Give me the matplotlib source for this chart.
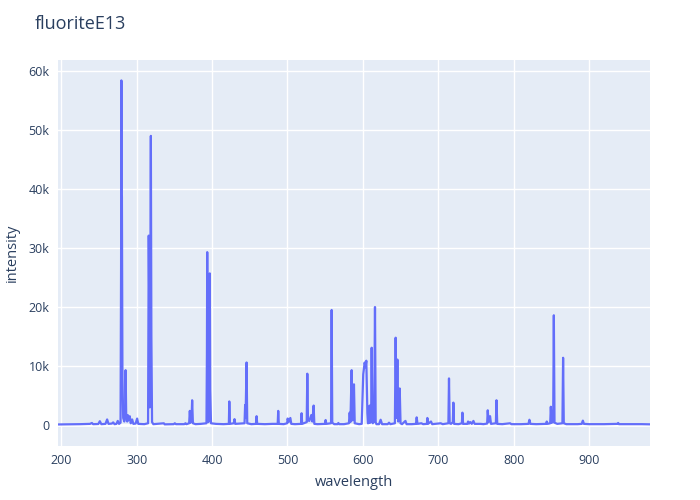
import matplotlib
matplotlib.use("Agg")
import matplotlib.pyplot as plt
from matplotlib.ticker import FuncFormatter

title = "fluoriteE13"
x_label = "wavelength"
y_label = "intensity"

wavelength = [
    195.5, 210, 225, 238, 240.5, 242, 249, 251, 253, 258.5, 260.7, 262.5, 267, 268.7, 270.5,
    273, 274.8, 276.5, 278.5, 279.2, 279.6, 280.0, 280.3, 281.0, 282.0, 283.5, 284.6, 285.2,
    286.0, 287.3, 288.0, 289.0, 290.7, 292.0, 293.9, 295.5, 298.5, 300.5, 302, 310, 315.0,
    315.9, 316.6, 317.3, 318.0, 318.7, 319.4, 320.3, 322, 335.9, 337, 349, 350.5, 352, 363,
    364.7, 366, 369.5, 370.4, 371.3, 372.8, 373.5, 374.5, 378, 385, 392.5, 393.1, 393.5,
    394.2, 395.0, 396.2, 396.9, 397.5, 398.5, 405, 415, 422.2, 422.8, 423.6, 428.8, 429.7,
    430.7, 443, 443.8, 444.4, 445.7, 446.6, 452, 458.2, 459, 459.8, 470, 480, 487, 487.7,
    488.5, 495, 499.5, 500.2, 501.5, 503.8, 505, 510, 518, 518.7, 519.5, 525.5, 526.3, 527.2,
    529, 531.6, 533, 534.7, 535.6, 540, 549.8, 550.6, 551.5, 557.8, 558.6, 559.4, 562, 566.5,
    567.5, 568.5, 575, 581.5, 582.5, 583.5, 585.1, 586.5, 588.2, 589.2, 595, 598.5, 600.5,
    602.4, 603.5, 604.6, 606.0, 606.8, 608.3, 609.0, 609.8, 611.0, 611.7, 612.6, 613.3, 614.0,
    615.0, 616.1, 617.0, 618, 621.5, 623.6, 625.5, 633, 634.7, 636.5, 642.5, 643.5, 644.6,
    645.8, 647, 648.9, 650, 652, 656.5, 658, 665, 670.5, 671.4, 672.5, 677.6, 680, 685, 685.6,
    686.5, 690.4, 692, 703.3, 706, 713.5, 714.3, 715.2, 717, 719.4, 720.1, 721, 727, 731.4,
    732.1, 733, 738.8, 739.6, 741, 742.7, 744.5, 746.7, 748.3, 756.4, 760, 764.9, 765.7, 766.8,
    768.8, 770, 776.5, 777.3, 778.3, 785, 795.4, 797, 810, 819.8, 821.0, 822.3, 830, 843, 844.0,
    845, 848.6, 849.4, 850.4, 852.5, 853.4, 854.3, 858, 864.8, 865.7, 866.6, 870, 885, 890.5,
    891.9, 893.3, 900, 920, 938, 938.8, 939.8, 955, 970, 981,
]
intensity = [
    100, 120, 150, 200, 350, 150, 180, 650, 150, 200, 950, 200, 250, 450, 150,
    200, 700, 200, 400, 27000, 58400, 25000, 38700, 8000, 1200, 600, 2000, 9300,
    1500, 600, 1700, 800, 1500, 300, 950, 200, 250, 1100, 200, 150, 300,
    32100, 20000, 3000, 23000, 49000, 15000, 500, 150, 300, 120, 150, 300, 150, 150,
    300, 150, 300, 2400, 400, 1500, 4200, 300, 150, 200, 300, 12000, 29300,
    8000, 500, 4000, 25700, 6000, 300, 200, 150, 200, 4000, 200, 300, 1000,
    200, 300, 3400, 1200, 10600, 300, 150, 200, 1500, 200, 150, 200, 200, 2400,
    200, 150, 300, 1100, 500, 1200, 200, 150, 200, 2000, 200, 500, 8700, 800,
    700, 1700, 600, 3300, 200, 150, 200, 850, 200, 300, 19500, 400, 150, 150,
    350, 150, 150, 300, 2100, 500, 9300, 800, 6900, 300, 150, 200, 8600,
    10600, 9800, 10900, 2000, 300, 400, 3300, 400, 1500, 13100, 500, 300, 3000,
    500, 20000, 500, 150, 150, 900, 150, 150, 400, 150, 300, 14800, 1200,
    11100, 600, 6200, 300, 150, 700, 150, 150, 200, 1300, 200, 300, 150, 200, 1200,
    200, 600, 150, 300, 150, 300, 7900, 300, 200, 500, 3800, 200, 150, 300,
    2100, 200, 200, 600, 250, 500, 200, 700, 200, 200, 150, 250, 2500, 500,
    1500, 200, 300, 4200, 200, 150, 300, 150, 150, 200, 900, 200, 150, 200, 600,
    200, 300, 3100, 400, 500, 18600, 400, 200, 300, 11400, 300, 150, 150, 200,
    750, 200, 150, 150, 200, 350, 150, 150, 150, 120,
]

x_ticks = [200, 300, 400, 500, 600, 700, 800, 900]
y_ticks = [0, 10000, 20000, 30000, 40000, 50000, 60000]

font_family = ["Open Sans", "DejaVu Sans"]
text_color = "#2a3f5f"

fig = plt.figure(figsize=(7, 5), dpi=100)
ax = fig.add_axes([58 / 700, 1 - 446 / 500, (650 - 58) / 700, (446 - 60) / 500])
ax.set_facecolor("#E5ECF6")
ax.plot(wavelength, intensity, color="#636EFA", linewidth=1.6, zorder=3)

ax.set_xlim(195.5, 981)
ax.set_ylim(-3550, 61860)
ax.set_xticks(x_ticks)
ax.set_yticks(y_ticks)
ax.yaxis.set_major_formatter(FuncFormatter(lambda v, p: "0" if v == 0 else f"{int(v/1000)}k"))
ax.grid(True, color="white", linewidth=1.0, zorder=0)
ax.set_axisbelow(True)
ax.axhline(0, color="white", linewidth=2, zorder=1)
for s in ax.spines.values():
    s.set_visible(False)
ax.tick_params(length=0, pad=6, labelsize=9, labelcolor=text_color)
for lab in ax.get_xticklabels() + ax.get_yticklabels():
    lab.set_family(font_family)

fig.text(35 / 700, 1 - 24 / 500, title, fontsize=13, color=text_color,
         family=font_family, ha="left", va="center")
fig.text((58 + 650) / 2 / 700, 1 - 483 / 500, x_label, fontsize=10.5, color=text_color,
         family=font_family, ha="center", va="center")
fig.text(12 / 700, 1 - 253 / 500, y_label, fontsize=10.5, color=text_color,
         family=font_family, ha="center", va="center", rotation=90)

fig.savefig("out.png", dpi=100)
